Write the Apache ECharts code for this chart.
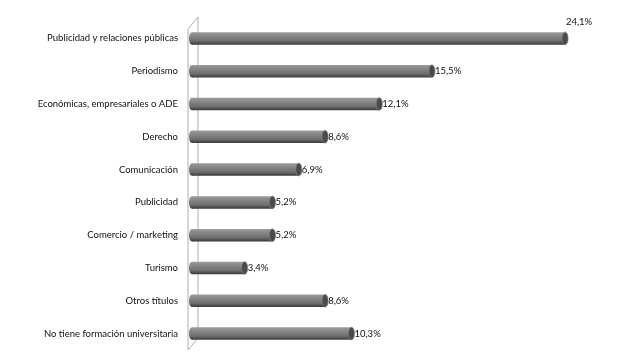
<!DOCTYPE html>
<html>
<head>
<meta charset="utf-8">
<script src="https://cdn.jsdelivr.net/npm/echarts@6/dist/echarts.min.js"></script>
<style>
html, body { margin: 0; padding: 0; background: #fff; }
#chart { width: 640px; height: 360px; }
</style>
</head>
<body>
<div id="chart"></div>
<script>
var categories = [
  "Publicidad y relaciones públicas",
  "Periodismo",
  "Económicas, empresariales o ADE",
  "Derecho",
  "Comunicación",
  "Publicidad",
  "Comercio / marketing",
  "Turismo",
  "Otros títulos",
  "No tiene formación universitaria"
];
var values = [24.1, 15.5, 12.1, 8.6, 6.9, 5.2, 5.2, 3.4, 8.6, 10.3];

var fontName = "Lato";
var chart = echarts.init(document.getElementById("chart"));

function fmt(v) {
  return v.toFixed(1).replace(".", ",") + "%";
}

var cylFill = new echarts.graphic.LinearGradient(0, 0, 0, 1, [
  { offset: 0, color: "#9c9c9c" },
  { offset: 0.25, color: "#8a8a8a" },
  { offset: 0.7, color: "#6e6e6e" },
  { offset: 1, color: "#383838" }
]);

function renderItem(params, api) {
  var idx = api.value(0);
  var val = api.value(1);
  var p0 = api.coord([0, idx]);
  var p1 = api.coord([val, idx]);
  var h = 12.5;
  var rx = 3;
  var y = p0[1] - h / 2;
  var first = params.dataIndex === 0;
  return {
    type: "group",
    children: [
      {
        type: "ellipse",
        shape: { cx: p0[0], cy: p0[1], rx: rx, ry: h / 2 },
        style: { fill: cylFill }
      },
      {
        type: "rect",
        shape: { x: p0[0], y: y, width: p1[0] - p0[0], height: h },
        style: { fill: cylFill }
      },
      {
        type: "ellipse",
        shape: { cx: p1[0], cy: p1[1], rx: rx, ry: h / 2 },
        style: { fill: "#4a4a4a", stroke: "#7a7a7a", lineWidth: 0.8 }
      },
      {
        type: "text",
        x: first ? p1[0] + 14 : p1[0] + rx,
        y: first ? p1[1] - 16 : p1[1],
        style: {
          text: fmt(val),
          fill: "#111",
          font: "9.5px " + fontName,
          align: first ? "center" : "left",
          verticalAlign: "middle"
        }
      }
    ]
  };
}

var option = {
  animation: false,
  grid: { left: 192, top: 22, width: 387, height: 328 },
  xAxis: {
    type: "value",
    min: 0,
    max: 25,
    show: false
  },
  yAxis: {
    type: "category",
    data: categories,
    inverse: true,
    axisLine: { show: false },
    axisTick: { show: false },
    axisLabel: {
      margin: 14,
      color: "#111",
      fontFamily: fontName,
      fontSize: 9.5
    }
  },
  graphic: [
    {
      type: "polyline",
      shape: { points: [[188, 350], [188, 29], [198, 17], [198, 338], [188, 350]] },
      style: { fill: "rgba(0,0,0,0)", stroke: "#b0b0b0", lineWidth: 1 },
      z: 0
    }
  ],
  series: [
    {
      type: "custom",
      renderItem: renderItem,
      encode: { x: 1, y: 0 },
      data: values.map(function (v, i) { return [i, v]; }),
      z: 5
    }
  ]
};
chart.setOption(option);
</script>
</body>
</html>
